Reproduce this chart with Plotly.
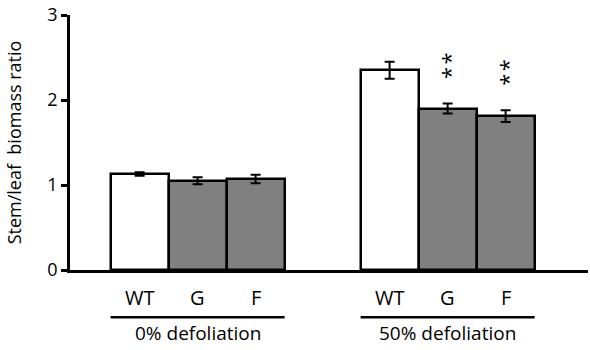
import plotly.graph_objects as go

# Stem/leaf biomass ratio per genotype under two defoliation treatments
groups = ["0% defoliation", "50% defoliation"]
genotypes = ["WT", "G", "F"]
ratio_0 = [1.13, 1.05, 1.07]
err_0 = [0.02, 0.04, 0.05]
ratio_50 = [2.35, 1.90, 1.81]
err_50 = [0.10, 0.06, 0.07]
signif_50 = ["", "**", "**"]
y_ticks = [0, 1, 2, 3]

values = [ratio_0, ratio_50]
errors = [err_0, err_50]
marks = [["", "", ""], signif_50]

FONT = "Open Sans"
bar_w = 1.0
first_center = 1.2
group_step = 4.31
x_max = 8.93

fig = go.Figure()
shapes = []
annotations = []

for g, gname in enumerate(groups):
    centers = [first_center + g * group_step + i * bar_w for i in range(len(genotypes))]
    colors = ["white" if name == "WT" else "#808080" for name in genotypes]
    fig.add_trace(go.Bar(
        x=centers, y=values[g], width=bar_w,
        marker=dict(color=colors, line=dict(color="black", width=2.5)),
        error_y=dict(type="data", array=errors[g], color="black", thickness=2, width=5),
        showlegend=False, hoverinfo="skip",
    ))
    for c, name, v, e, m in zip(centers, genotypes, values[g], errors[g], marks[g]):
        annotations.append(dict(x=c, y=-0.106, xref="x", yref="paper", text=name,
                                showarrow=False, yanchor="middle",
                                font=dict(family=FONT, size=20, color="black")))
        if m:
            # significance stars stacked vertically above the error bar
            annotations.append(dict(x=c, y=v + e, xref="x", yref="y",
                                    text=f'<span style="letter-spacing:2.5px">{m}</span>',
                                    textangle=-90, showarrow=False,
                                    yanchor="middle", xanchor="center",
                                    yshift=39, xshift=2,
                                    font=dict(family=FONT, size=22, color="black")))
    left = centers[0] - bar_w / 2
    right = centers[-1] + bar_w / 2
    shapes.append(dict(type="line", xref="x", yref="paper", x0=left, x1=right,
                       y0=-0.185, y1=-0.185, line=dict(color="black", width=2.5)))
    annotations.append(dict(x=(left + right) / 2, y=-0.304, xref="x", yref="paper",
                            text=gname, showarrow=False, yanchor="bottom",
                            font=dict(family=FONT, size=19, color="black")))

fig.update_layout(
    width=590, height=350,
    margin=dict(l=70, r=2, t=10, b=80),
    paper_bgcolor="white", plot_bgcolor="white",
    bargap=0,
    shapes=shapes, annotations=annotations,
    xaxis=dict(range=[0, x_max], showline=True, linecolor="black", linewidth=2.5,
               showticklabels=False, ticks="", showgrid=False, zeroline=False,
               fixedrange=True),
    yaxis=dict(range=[0, 3], tickvals=y_ticks, showline=True, linecolor="black",
               linewidth=2.5, ticks="outside", ticklen=6, tickwidth=2.5,
               tickcolor="black", showgrid=False, zeroline=False,
               ticklabeloverflow="allow",
               tickfont=dict(family=FONT, size=18, color="black"),
               title=dict(text="Stem/leaf  biomass ratio", standoff=22,
                          font=dict(family=FONT, size=18, color="black")),
               fixedrange=True),
)

fig.write_html("out.html")
